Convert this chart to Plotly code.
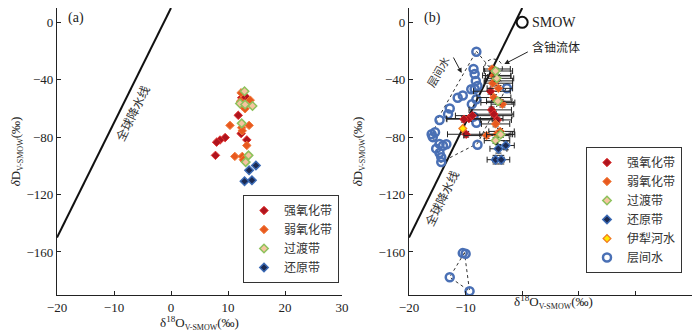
import plotly.graph_objects as go

# ---------------- data ----------------
# GMWL: dD = 8*d18O + 10
gmwl_x = [-20, 0]
gmwl_y = [-150, 10]

# panel (a)
a_strong_x = [13.3, 12.4, 11.8, 12.3, 13.3, 9.5, 8.6, 8.0, 7.8, 12.9]
a_strong_y = [-52.6, -52.6, -64.8, -77.5, -81.9, -80.3, -82.0, -83.5, -92.7, -96.5]
a_weak_x = [12.3, 13.9, 12.5, 13.0, 10.35, 13.7, 12.4, 12.5, 13.3, 11.2, 12.5, 12.7, 12.2]
a_weak_y = [-49.1, -54.2, -58.3, -60.2, -71.8, -71.8, -73.4, -75.6, -85.8, -93.4, -93.4, -95.7, -55.0]
a_trans_x = [12.9, 12.1, 13.0, 14.3, 12.4, 13.6, 13.1]
a_trans_y = [-48.0, -56.5, -57.2, -58.3, -70.4, -92.7, -97.4]
a_red_x = [14.9, 13.7, 14.2, 12.9]
a_red_y = [-99.7, -103.1, -110.0, -110.7]

# panel (b)
b_strong_x = [-5.0, -5.6, -5.4, -9.4, -8.8, -10.3, -5.0, -9.9, -4.4]
b_strong_y = [-37, -48, -61, -67, -65, -67.5, -64, -78, -68]
b_strong_exm = [2, 3, 4, 4, 3, 3, 4, 3.3, 3]
b_strong_exp = [3, 3.5, 3.5, 6, 7, 5, 3.5, 8.2, 2.5]
b_strong_ey = [2, 2, 2, 2, 2, 2, 2, 2, 2]

b_weak_x = [-5.3, -5.0, -4.7, -5.2, -5.0, -3.8, -3.5, -4.7, -6.3, -4.5, -3.9, -4.2]
b_weak_y = [-32.5, -37.4, -40.8, -42.4, -52.4, -55.9, -57, -70.8, -78.9, -78, -76, -46]
b_weak_exm = [1.5, 1.5, 2, 1.5, 3, 3.5, 2, 2.5, 4, 3, 2, 2]
b_weak_exp = [3.2, 3, 3, 3.5, 3, 2.5, 2, 2.5, 4, 2.5, 2.5, 2.5]
b_weak_ey = [2, 2, 2, 2, 2, 2, 2, 2, 2, 2, 2, 2]

b_trans_x = [-4.7, -4.5, -4.3, -3.8, -4.7]
b_trans_y = [-33.9, -39, -55, -78.2, -82.4]
b_trans_exm = [2, 2, 2, 2.5, 2]
b_trans_exp = [3, 3, 2.5, 2.5, 2.5]
b_trans_ey = [2, 2, 2, 2, 2]

b_red_x = [-4.2, -2.9, -4.7, -3.7]
b_red_y = [-88.1, -85.8, -95.7, -95.7]
b_red_ex = [1.5, 1.5, 1.5, 1.5]
b_red_ey = [3, 3, 3, 3]

b_river_x = [-10.5]
b_river_y = [-74]

b_inter_x = [-8.1, -8.6, -8.4, -8.2, -9.0, -8.4, -7.9, -10.5, -11.4, -8.1, -2.7,
             -12.8, -13.1, -14.6, -8.6, -8.1, -15.4, -15.8, -14.6, -14.0, -13.4,
             -14.6, -14.3, -14.3, -7.9, -8.9, -16.0, -15.2,
             -10.5, -10.0, -12.8, -9.3]
b_inter_y = [-20.5, -32.5, -36, -40.8, -46.6, -46.5, -44.3, -51, -52.6, -53.6, -45.9,
             -60, -64, -68, -65.7, -70, -76.6, -80, -84.7, -86, -85,
             -91, -94, -97.4, -85.3, -57, -78, -88,
             -160.8, -161.3, -177.6, -187.3]

poly_up_x = [-8.1, -2.8, -7.9, -14.4, -15.8, -14.9, -8.1]
poly_up_y = [-20.1, -45.7, -84.4, -97.6, -78.9, -67.1, -20.1]
poly_low_x = [-10.2, -12.8, -9.3, -10.2]
poly_low_y = [-160.5, -177.6, -187.3, -160.5]

smow_x = [0]
smow_y = [0]

x_ticks = [-20, -10, 0, 10, 20, 30]
x_ticktext_a = ["−20", "−10", "0", "10", "20", "30"]
x_ticktext_b = ["−20", "−10", "", "", "", ""]
y_ticks = [0, -40, -80, -120, -160]

# ---------------- geometry (page pixels; page body has an 8px margin) ----------------
OFF = 8
W, H = 700 - OFF, 332 - OFF

def fx(px):
    return (px - OFF) / W

def fy(py):
    return 1 - (py - OFF) / H

# ---------------- styles ----------------
SERIF = "Liberation Serif, Times New Roman, serif"
CJK = "Noto Sans CJK SC"
STY = {
    "强氧化带": dict(color="#B0141E", line=dict(color="#E0302C", width=1)),
    "弱氧化带": dict(color="#E8591F", line=dict(color="#F27C3C", width=1)),
    "过渡带": dict(color="#F5C4A0", line=dict(color="#8DC25C", width=1.5)),
    "还原带": dict(color="#1B2A52", line=dict(color="#3B6AB5", width=1.5)),
}
MS = 6.5
XTITLE = "δ<sup>18</sup>O<sub><span style='font-size:8px'>V-SMOW</span></sub>(‰)"
YTITLE = "<i>δ</i>D<sub><span style='font-size:8px'>V-SMOW</span></sub>(‰)"

def err(plus, minus=None):
    d = dict(type="data", array=plus, color="#222", thickness=1, width=3)
    if minus is not None:
        d["symmetric"] = False
        d["arrayminus"] = minus
    return d

fig = go.Figure()

# panel a
fig.add_trace(go.Scatter(x=gmwl_x, y=gmwl_y, mode="lines", line=dict(color="#111", width=2),
                         showlegend=False, xaxis="x", yaxis="y", hoverinfo="skip"))
for nm, xs, ys in [("强氧化带", a_strong_x, a_strong_y), ("弱氧化带", a_weak_x, a_weak_y),
                   ("过渡带", a_trans_x, a_trans_y), ("还原带", a_red_x, a_red_y)]:
    fig.add_trace(go.Scatter(x=xs, y=ys, mode="markers", name=nm,
                             marker=dict(symbol="diamond", size=MS, **STY[nm]),
                             xaxis="x", yaxis="y", legend="legend"))

# panel b
fig.add_trace(go.Scatter(x=gmwl_x, y=gmwl_y, mode="lines", line=dict(color="#111", width=2),
                         showlegend=False, xaxis="x2", yaxis="y2", hoverinfo="skip"))
for px, py in [(poly_up_x, poly_up_y), (poly_low_x, poly_low_y)]:
    fig.add_trace(go.Scatter(x=px, y=py, mode="lines", line=dict(color="#333", width=1, dash="dot"),
                             showlegend=False, xaxis="x2", yaxis="y2", hoverinfo="skip"))
fig.add_trace(go.Scatter(x=b_inter_x, y=b_inter_y, mode="markers", name="层间水",
                         marker=dict(symbol="circle-open", size=8, color="#4A70B5", line=dict(width=2.5)),
                         xaxis="x2", yaxis="y2", legend="legend2", legendrank=6))
groups_b = [
    ("强氧化带", b_strong_x, b_strong_y, b_strong_exp, b_strong_exm, b_strong_ey, 1),
    ("弱氧化带", b_weak_x, b_weak_y, b_weak_exp, b_weak_exm, b_weak_ey, 2),
    ("过渡带", b_trans_x, b_trans_y, b_trans_exp, b_trans_exm, b_trans_ey, 3),
    ("还原带", b_red_x, b_red_y, b_red_ex, b_red_ex, b_red_ey, 4),
]
for nm, xs, ys, ep, em, ey, rk in groups_b:
    fig.add_trace(go.Scatter(x=xs, y=ys, mode="markers", name=nm,
                             marker=dict(symbol="diamond", size=MS, **STY[nm]),
                             error_x=err(ep, em), error_y=err(ey),
                             xaxis="x2", yaxis="y2", legend="legend2", legendrank=rk))
fig.add_trace(go.Scatter(x=b_river_x, y=b_river_y, mode="markers", name="伊犁河水",
                         marker=dict(symbol="diamond", size=6, color="#FFE800", line=dict(color="#F07820", width=1.2)),
                         xaxis="x2", yaxis="y2", legend="legend2", legendrank=5))
fig.add_trace(go.Scatter(x=smow_x, y=smow_y, mode="markers", showlegend=False,
                         marker=dict(symbol="circle-open", size=11, color="#111", line=dict(width=2)),
                         xaxis="x2", yaxis="y2", cliponaxis=False))

# ---------------- layout ----------------
ax_common = dict(range=[-20, 30], tickmode="array", tickvals=x_ticks, ticks="inside", ticklen=4,
                 tickcolor="#222", showline=True, linecolor="#222", linewidth=1.2, showgrid=False,
                 zeroline=False, automargin=False, ticklabeloverflow="allow",
                 tickfont=dict(family=SERIF, size=13, color="#222"))
ay_common = dict(range=[-190, 10], tickvals=y_ticks, ticks="inside", ticklen=4, tickcolor="#222",
                 showline=True, linecolor="#222", linewidth=1.2, showgrid=False, zeroline=False,
                 automargin=False,
                 tickfont=dict(family=SERIF, size=13, color="#222"),
                 title=dict(text=YTITLE, font=dict(family=SERIF, size=13, color="#222"), standoff=12))
Y_DOM = [fy(295), 1.0]
legend_common = dict(font=dict(family=CJK, size=12, color="#333"), bordercolor="#333", borderwidth=1,
                     bgcolor="white", xanchor="right", yanchor="top", tracegroupgap=0, itemwidth=30)

def ptext(text, px, py, size=13, family=SERIF, yanchor="middle"):
    return dict(text=text, xref="paper", yref="paper", x=fx(px), y=fy(py), showarrow=False,
                xanchor="center", yanchor=yanchor, font=dict(family=family, size=size, color="#222"))

fig.update_layout(
    width=W, height=H, margin=dict(l=0, r=0, t=0, b=0, autoexpand=False),
    plot_bgcolor="white", paper_bgcolor="white",
    xaxis=dict(domain=[fx(57), fx(342)], anchor="y", ticktext=x_ticktext_a,
               title=dict(text=XTITLE, font=dict(family=SERIF, size=13, color="#222"), standoff=0),
               **ax_common),
    yaxis=dict(domain=Y_DOM, anchor="x", **ay_common),
    xaxis2=dict(domain=[fx(409), fx(692)], anchor="y2", ticktext=x_ticktext_b, **ax_common),
    yaxis2=dict(domain=Y_DOM, anchor="x2", **ay_common),
    legend=dict(x=fx(339), y=fy(195), **legend_common),
    legend2=dict(x=fx(682), y=fy(147), **legend_common),
    annotations=[
        ptext(XTITLE, 553, 302),
        ptext("(a)", 76, 8, 14, yanchor="top"),
        ptext("(b)", 432, 8, 14, yanchor="top"),
        dict(text="全球降水线", xref="x", yref="y", x=-6.8, y=-63, showarrow=False, textangle=-63.7,
             font=dict(family=CJK, size=12, color="#333")),
        dict(text="全球降水线", xref="x2", yref="y2", x=-14.4, y=-122.5, showarrow=False, textangle=-63.7,
             font=dict(family=CJK, size=12, color="#333")),
        dict(text="层间水", xref="x2", yref="y2", x=-14.9, y=-34, showarrow=False, textangle=-60,
             font=dict(family=CJK, size=11, color="#333")),
        dict(text="", xref="x2", yref="y2", x=-10.7, y=-35.3, ax=-9, ay=-17, showarrow=True,
             arrowhead=2, arrowsize=1, arrowwidth=1, arrowcolor="#222"),
        dict(text="含铀流体", xref="x2", yref="y2", x=5.96, y=-16.6, showarrow=False,
             font=dict(family=CJK, size=12, color="#222")),
        dict(text="", xref="x2", yref="y2", x=-3.16, y=-29.1, ax=25, ay=-13, showarrow=True,
             arrowhead=2, arrowsize=1, arrowwidth=1, arrowcolor="#222"),
        dict(text="SMOW", xref="x2", yref="y2", x=1.4, y=0, xanchor="left", showarrow=False,
             font=dict(family=SERIF, size=14, color="#222")),
    ],
    shapes=[
        dict(type="circle", xref="x2", yref="y2", x0=-6.67, x1=-3.5, y0=-38, y1=-25.6,
             line=dict(color="#222", width=1, dash="dot")),
    ],
)

fig.write_html("out.html")
